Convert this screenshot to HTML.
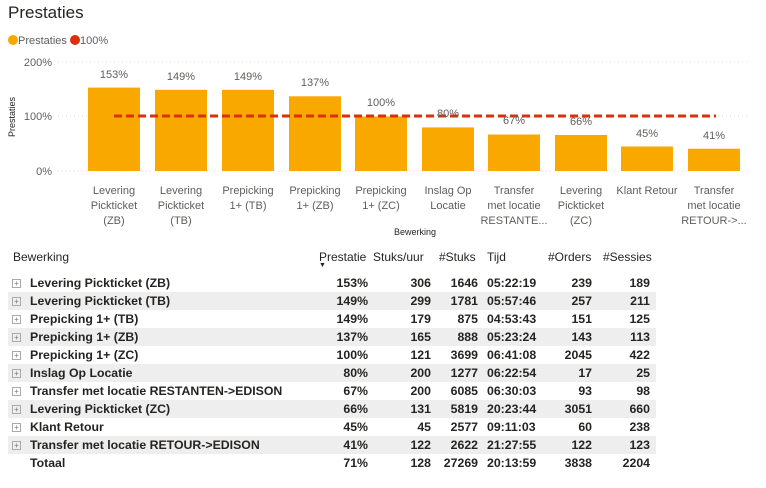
<!DOCTYPE html>
<html><head><meta charset="utf-8"><style>
*{margin:0;padding:0;box-sizing:border-box}
body{width:766px;height:488px;background:#fff;font-family:"Liberation Sans","DejaVu Sans",sans-serif;position:relative;overflow:hidden;color:#252423}
.a{position:absolute;white-space:nowrap}
.r{position:absolute;left:8px;width:648px;height:18px}
.sh{background:#eeeeee}
.c{position:absolute;font-size:12.3px;font-weight:bold;line-height:18px;top:0}
.rt{text-align:right}
.pl{position:absolute;left:4px;top:5px;width:9px;height:9px;border:1px solid #aaa;font-size:8px;line-height:7px;text-align:center;color:#777;font-weight:normal}
</style></head><body>
<div class="a" style="left:8px;top:3px;font-size:17px;color:#252423">Prestaties</div>
<div class="a" style="left:8px;top:35px;font-size:11px;color:#605e5c"><span style="display:inline-block;width:10px;height:10px;border-radius:5px;background:#f9a800;vertical-align:-1px"></span>Prestaties <span style="display:inline-block;width:10px;height:10px;border-radius:5px;background:#d9310b;vertical-align:-1px"></span>100%</div>
<svg class="a" style="left:0;top:0" width="766" height="245">
<g stroke="#ddd" stroke-dasharray="1,3"><line x1="58" x2="750" y1="62" y2="62"/><line x1="58" x2="750" y1="116.5" y2="116.5"/><line x1="58" x2="750" y1="171" y2="171"/></g>
<g font-size="11" fill="#605e5c" text-anchor="end"><text x="52" y="66">200%</text><text x="52" y="120">100%</text><text x="52" y="175">0%</text></g>
<text transform="translate(15,117) rotate(-90)" font-size="9" fill="#252423" text-anchor="middle">Prestaties</text>
<g fill="#f9a800">
<rect x="88" y="87.6" width="52" height="83.4"/><rect x="155" y="89.8" width="52" height="81.2"/><rect x="222" y="89.8" width="52" height="81.2"/><rect x="289" y="96.3" width="52" height="74.7"/><rect x="355" y="116.5" width="52" height="54.5"/><rect x="422" y="127.4" width="52" height="43.6"/><rect x="488" y="134.5" width="52" height="36.5"/><rect x="555" y="135" width="52" height="36"/><rect x="621" y="146.5" width="52" height="24.5"/><rect x="688" y="148.7" width="52" height="22.3"/>
</g>
<line x1="114" x2="716" y1="116" y2="116" stroke="#d9310b" stroke-width="3" stroke-dasharray="8,4"/>
<g font-size="11" fill="#605e5c" text-anchor="middle">
<text x="114" y="78">153%</text><text x="181" y="80">149%</text><text x="248" y="80">149%</text><text x="315" y="86">137%</text><text x="381" y="106">100%</text><text x="448" y="117">80%</text><text x="514" y="124">67%</text><text x="581" y="125">66%</text><text x="647" y="137">45%</text><text x="714" y="139">41%</text>
<text x="114" y="194">Levering</text><text x="114" y="209">Pickticket</text><text x="114" y="224">(ZB)</text>
<text x="181" y="194">Levering</text><text x="181" y="209">Pickticket</text><text x="181" y="224">(TB)</text>
<text x="248" y="194">Prepicking</text><text x="248" y="209">1+ (TB)</text>
<text x="315" y="194">Prepicking</text><text x="315" y="209">1+ (ZB)</text>
<text x="381" y="194">Prepicking</text><text x="381" y="209">1+ (ZC)</text>
<text x="448" y="194">Inslag Op</text><text x="448" y="209">Locatie</text>
<text x="514" y="194">Transfer</text><text x="514" y="209">met locatie</text><text x="514" y="224">RESTANTE...</text>
<text x="581" y="194">Levering</text><text x="581" y="209">Pickticket</text><text x="581" y="224">(ZC)</text>
<text x="647" y="194">Klant Retour</text>
<text x="714" y="194">Transfer</text><text x="714" y="209">met locatie</text><text x="714" y="224">RETOUR-&gt;...</text>
</g>
<text x="415" y="235" font-size="9" fill="#252423" text-anchor="middle">Bewerking</text>
</svg>
<div class="a" style="top:250px;left:13px;font-size:12px;color:#252423">Bewerking</div>
<div class="a" style="top:250px;left:319px;font-size:12px">Prestatie</div>
<div class="a" style="top:262px;left:319px;font-size:7px">▼</div>
<div class="a" style="top:250px;left:373px;font-size:12px">Stuks/uur</div>
<div class="a" style="top:250px;left:439px;font-size:12px">#Stuks</div>
<div class="a" style="top:250px;left:487px;font-size:12px">Tijd</div>
<div class="a" style="top:250px;left:548px;font-size:12px">#Orders</div>
<div class="a" style="top:250px;left:603px;font-size:12px">#Sessies</div>
<div id="t"></div>
<script>
var d=[["Levering Pickticket (ZB)","153%","306","1646","05:22:19","239","189"],["Levering Pickticket (TB)","149%","299","1781","05:57:46","257","211"],["Prepicking 1+ (TB)","149%","179","875","04:53:43","151","125"],["Prepicking 1+ (ZB)","137%","165","888","05:23:24","143","113"],["Prepicking 1+ (ZC)","100%","121","3699","06:41:08","2045","422"],["Inslag Op Locatie","80%","200","1277","06:22:54","17","25"],["Transfer met locatie RESTANTEN->EDISON","67%","200","6085","06:30:03","93","98"],["Levering Pickticket (ZC)","66%","131","5819","20:23:44","3051","660"],["Klant Retour","45%","45","2577","09:11:03","60","238"],["Transfer met locatie RETOUR->EDISON","41%","122","2622","21:27:55","122","123"],["Totaal","71%","128","27269","20:13:59","3838","2204"]];
var h="";
d.forEach(function(r,i){
var y=274+i*18;
h+='<div class="r'+(i%2&&i<10?' sh':'')+'" style="top:'+y+'px">'+(i<10?'<div class="pl">+</div>':'')+
'<div class="c" style="left:22px">'+r[0].replace(/>/g,'&gt;')+'</div>'+
'<div class="c rt" style="right:288px">'+r[1]+'</div>'+
'<div class="c rt" style="right:225px">'+r[2]+'</div>'+
'<div class="c rt" style="right:178px">'+r[3]+'</div>'+
'<div class="c" style="left:479px">'+r[4]+'</div>'+
'<div class="c rt" style="right:64px">'+r[5]+'</div>'+
'<div class="c rt" style="right:6px">'+r[6]+'</div></div>';
});
document.getElementById("t").innerHTML=h;
</script>
</body></html>
